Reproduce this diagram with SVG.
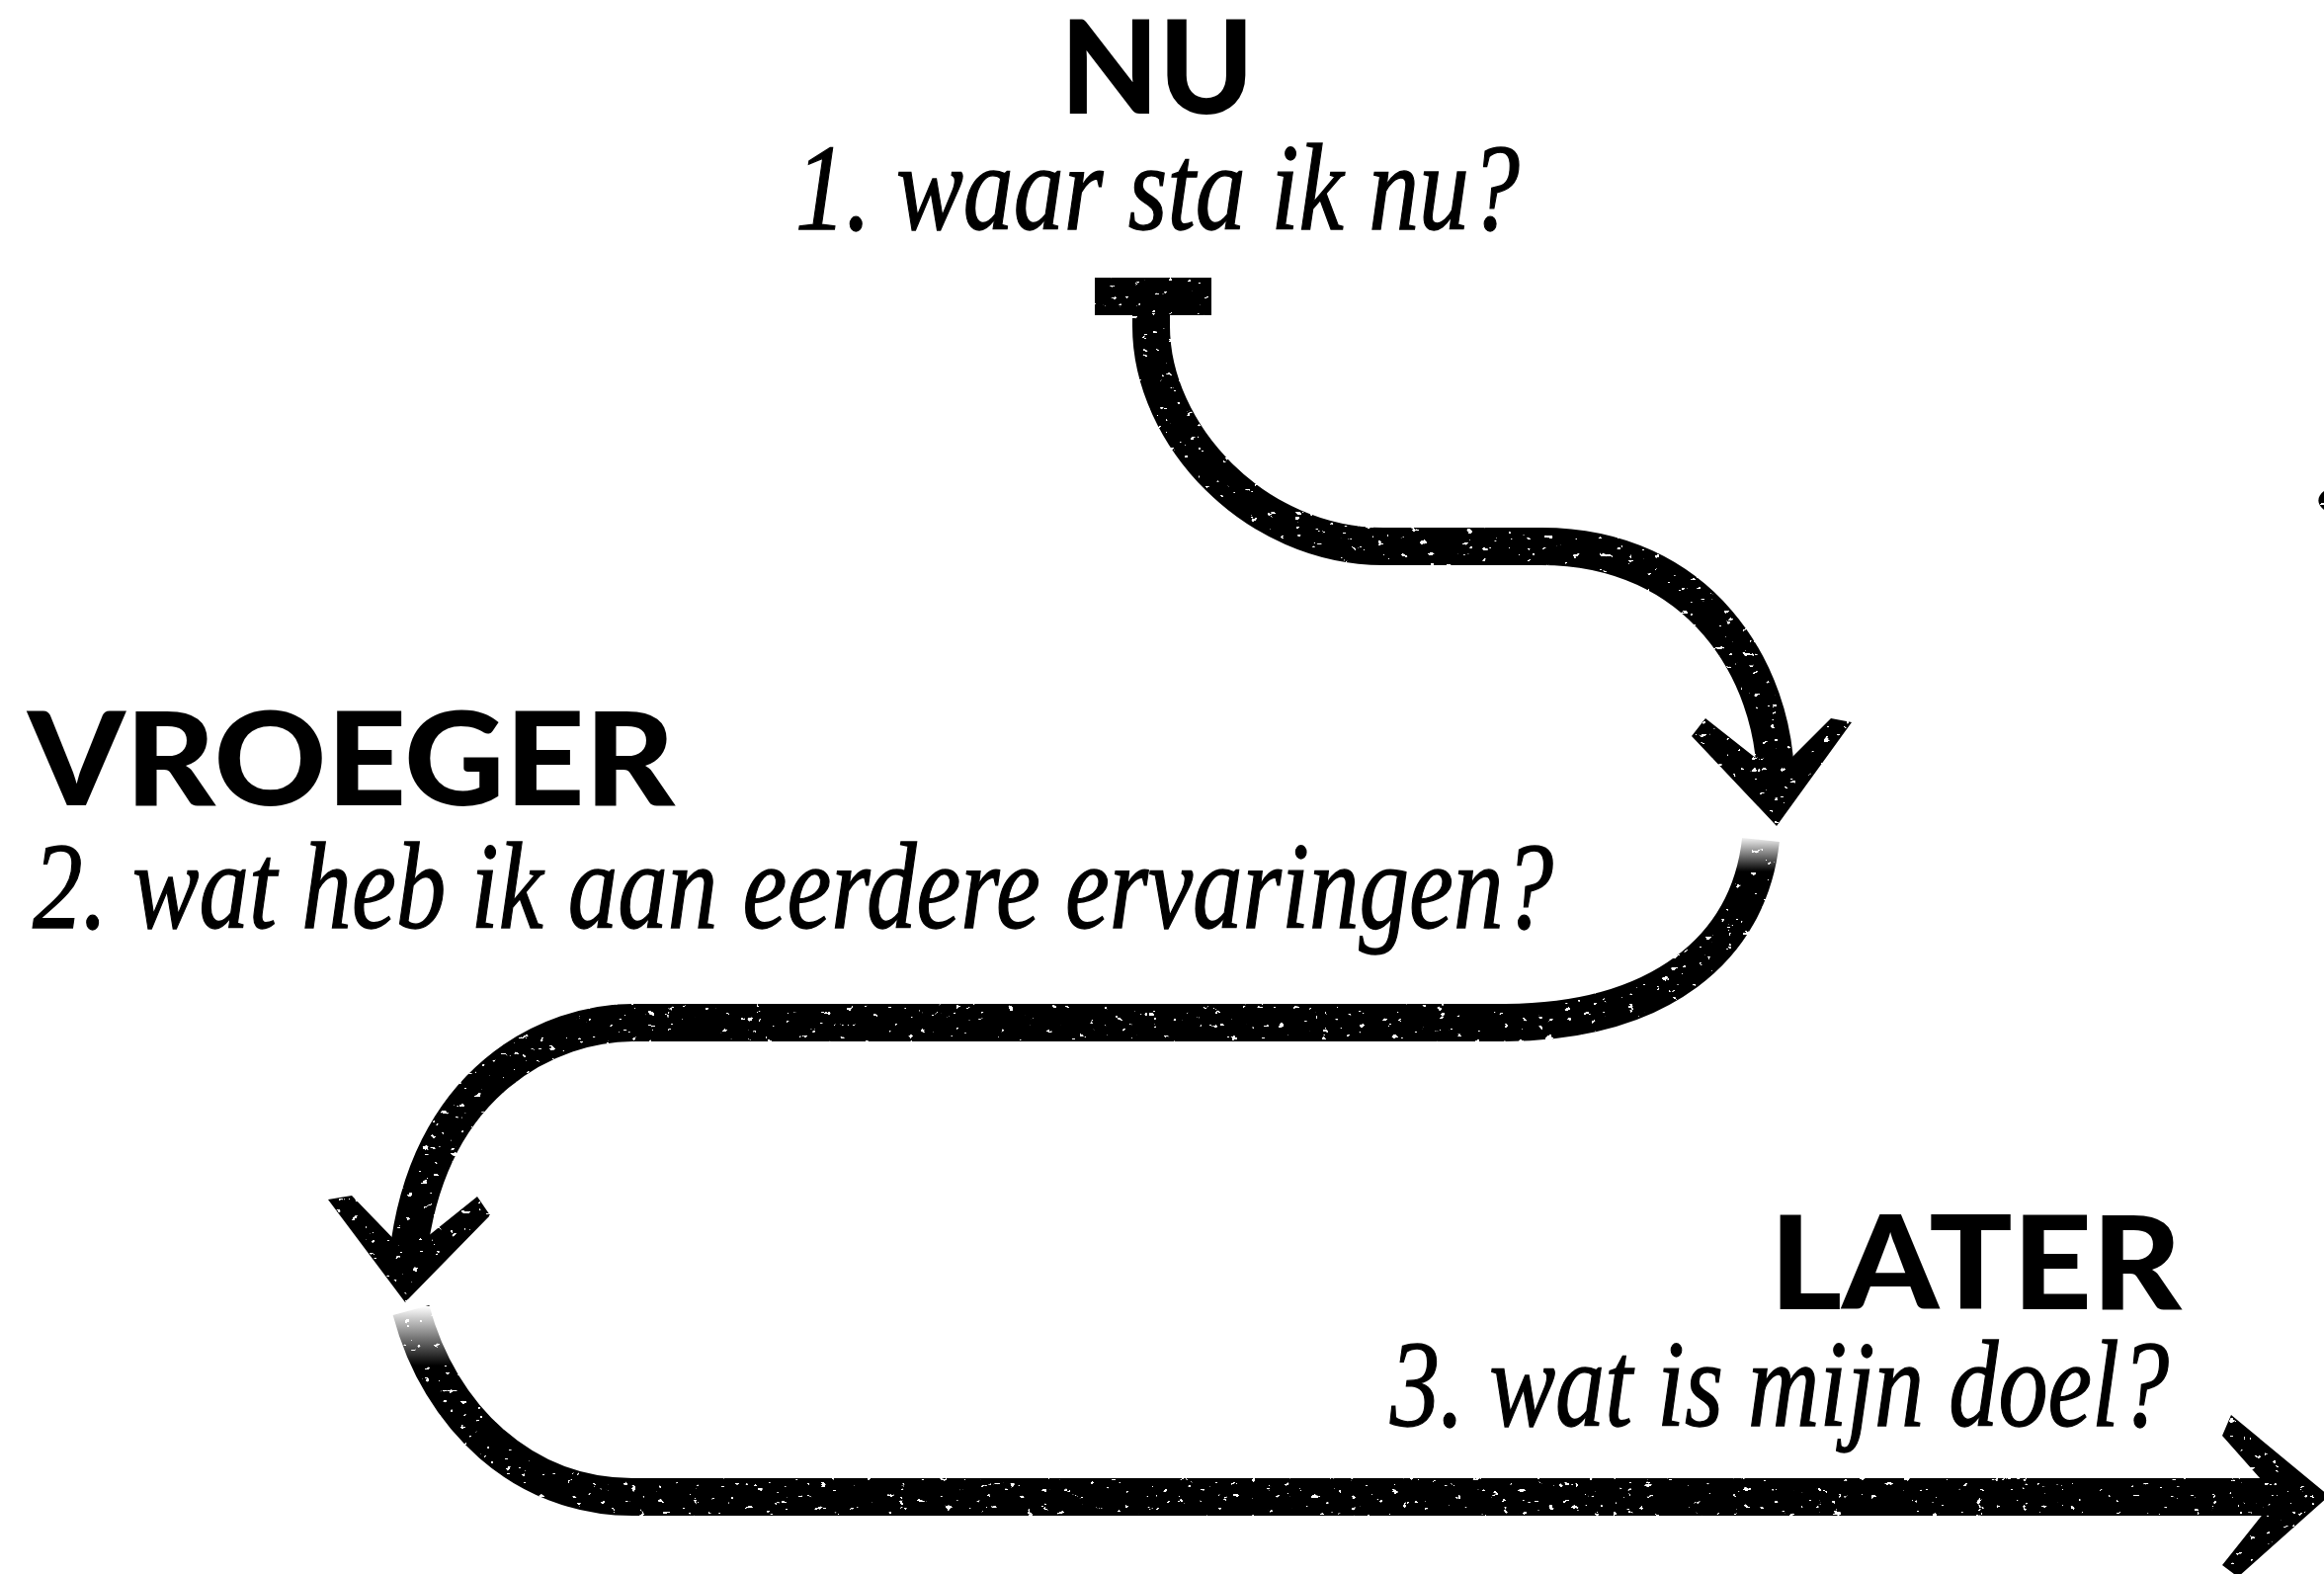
<svg xmlns="http://www.w3.org/2000/svg" width="2352" height="1593" viewBox="0 0 2352 1593">
<style>
.h { font-family: Lato, "Open Sans", "Liberation Sans", sans-serif; font-weight: 900; font-size: 131px; fill: #000; }
.s { font-family: "Liberation Serif", "DejaVu Serif", serif; font-style: italic; font-size: 124px; fill: #000; stroke: #000; stroke-width: 1.3; }
.c { fill: none; stroke: #000; stroke-width: 38; stroke-linecap: butt; stroke-linejoin: round; }
.ah { fill: #000; stroke: none; }
</style>
<defs>
  <filter id="grunge" filterUnits="userSpaceOnUse" x="0" y="0" width="2352" height="1593">
    <feTurbulence type="fractalNoise" baseFrequency="0.11 0.17" numOctaves="3" seed="11" result="n"/>
    <feColorMatrix in="n" type="matrix" values="0 0 0 0 0  0 0 0 0 0  0 0 0 0 0  -45 0 0 0 34" result="m"/>
    <feComposite in="SourceGraphic" in2="m" operator="in"/>
  </filter>
  <linearGradient id="fadeDown" x1="0" y1="0" x2="0" y2="1">
    <stop offset="0" stop-color="#000"/>
    <stop offset="1" stop-color="#fff"/>
  </linearGradient>
  <mask id="fades" maskUnits="userSpaceOnUse" x="0" y="0" width="2352" height="1593">
    <rect x="0" y="0" width="2352" height="1593" fill="#fff"/>
    <rect x="1735" y="846" width="100" height="36" fill="url(#fadeDown)"/>
    <rect x="385" y="1322" width="90" height="60" fill="url(#fadeDown)"/>
  </mask>
</defs>
<rect x="0" y="0" width="2352" height="1593" fill="#fff"/>

<g id="node-nu">
  <text class="h" x="1073" y="115" textLength="196" lengthAdjust="spacingAndGlyphs">NU</text>
  <text class="s" x="805" y="232" textLength="733" lengthAdjust="spacingAndGlyphs">1. waar sta ik nu?</text>
</g>

<g id="node-vroeger">
  <text class="h" x="28" y="815" textLength="655" lengthAdjust="spacingAndGlyphs">VROEGER</text>
  <text class="s" x="33" y="939" textLength="1539" lengthAdjust="spacingAndGlyphs">2. wat heb ik aan eerdere ervaringen?</text>
</g>

<g id="node-later">
  <text class="h" x="1791" y="1325" textLength="417" lengthAdjust="spacingAndGlyphs">LATER</text>
  <text class="s" x="1407" y="1443" textLength="788" lengthAdjust="spacingAndGlyphs">3. wat is mijn doel?</text>
</g>

<g id="connectors" filter="url(#grunge)" mask="url(#fades)">
  <rect class="ah" x="1108" y="281" width="118" height="38"/>
  <path class="c" d="M1165,312 L1165,330 C1165,440 1270,553 1400,553 L1560,553 C1720,553 1797,680 1797,792"/>
  <polygon class="ah" points="1798,836 1712,745 1726,727 1797,783 1853,727 1874,731"/>

  <path class="c" d="M1782,850 C1770,960 1680,1035 1520,1035 L640,1035 C560,1035 430,1090 412,1280"/>
  <polygon class="ah" points="410,1318 332,1214 356,1210 412,1268 483,1211 496,1230"/>

  <path class="c" d="M416,1326 C445,1435 530,1515 640,1515 L2320,1515"/>
  <polygon class="ah" points="2357,1514 2258,1432 2249,1453 2304,1515 2249,1584 2265,1596"/>

  <path class="ah" d="M2352,497 C2345,502 2344,510 2352,516 Z"/>
</g>
</svg>
